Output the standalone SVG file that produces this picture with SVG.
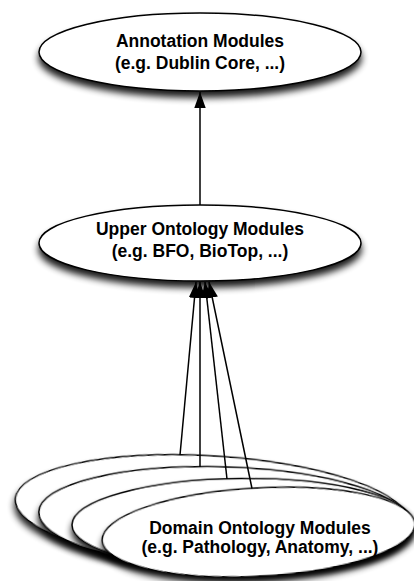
<svg xmlns="http://www.w3.org/2000/svg" width="414" height="581" viewBox="0 0 414 581">
  <defs>
    <filter id="shadow" x="-10%" y="-20%" width="120%" height="170%">
      <feGaussianBlur in="SourceAlpha" stdDeviation="3.5"/>
      <feOffset dx="0" dy="6"/>
      <feComponentTransfer><feFuncA type="linear" slope="0.9"/></feComponentTransfer>
      <feMerge><feMergeNode/><feMergeNode in="SourceGraphic"/></feMerge>
    </filter>
    <marker id="arrow" markerUnits="userSpaceOnUse" markerWidth="16" markerHeight="12" viewBox="0 0 14 10" refX="14" refY="5" orient="auto">
      <path d="M0,0 L14,5 L0,10 Z" fill="#000"/>
    </marker>
  </defs>
  <style>
    .node ellipse { fill: #fff; stroke: #000; stroke-width: 1.5; }
    .label { font-family: "Liberation Sans", Arial, Helvetica, sans-serif; font-weight: bold; font-size: 17.5px; fill: #000; text-anchor: middle; }
    .edge { stroke: #000; stroke-width: 1.5; fill: none; marker-end: url(#arrow); }
  </style>

  <!-- Annotation layer -->
  <g id="annotation" class="node">
    <ellipse cx="200" cy="52" rx="161" ry="39" filter="url(#shadow)"/>
    <text class="label" x="200" y="47">Annotation Modules</text>
    <text class="label" x="200" y="69">(e.g. Dublin Core, ...)</text>
  </g>

  <!-- Upper ontology layer -->
  <g id="upper" class="node">
    <ellipse cx="200" cy="243" rx="161" ry="38" filter="url(#shadow)"/>
    <text class="label" x="200" y="235">Upper Ontology Modules</text>
    <text class="label" x="200" y="257">(e.g. BFO, BioTop, ...)</text>
  </g>

  <!-- Fanned stack of domain ontology modules, back to front -->
  <g id="domain1" class="node"><ellipse cx="212" cy="511" rx="197" ry="55" transform="rotate(3.5 212 511)" filter="url(#shadow)"/></g>
  <g id="domain2" class="node"><ellipse cx="224.5" cy="518" rx="185.7" ry="51" transform="rotate(1.85 224.5 518)" filter="url(#shadow)"/></g>
  <g id="domain3" class="node"><ellipse cx="242" cy="523.5" rx="170" ry="45" transform="rotate(-0.5 242 523.5)" filter="url(#shadow)"/></g>
  <g id="domain4" class="node">
    <ellipse cx="258.5" cy="532" rx="156.5" ry="44" transform="rotate(-3.1 258.5 532)" filter="url(#shadow)"/>
    <text class="label" x="260" y="534">Domain Ontology Modules</text>
    <text class="label" x="260" y="553">(e.g. Pathology, Anatomy, ...)</text>
  </g>

  <!-- Import relations -->
  <g id="connectors">
    <line class="edge" x1="200" y1="205" x2="200" y2="92"/>
    <line class="edge" x1="180" y1="455" x2="196" y2="282"/>
    <line class="edge" x1="200" y1="467" x2="200" y2="282"/>
    <line class="edge" x1="227" y1="479" x2="205" y2="282"/>
    <line class="edge" x1="252" y1="488.5" x2="209" y2="282"/>
  </g>
</svg>
